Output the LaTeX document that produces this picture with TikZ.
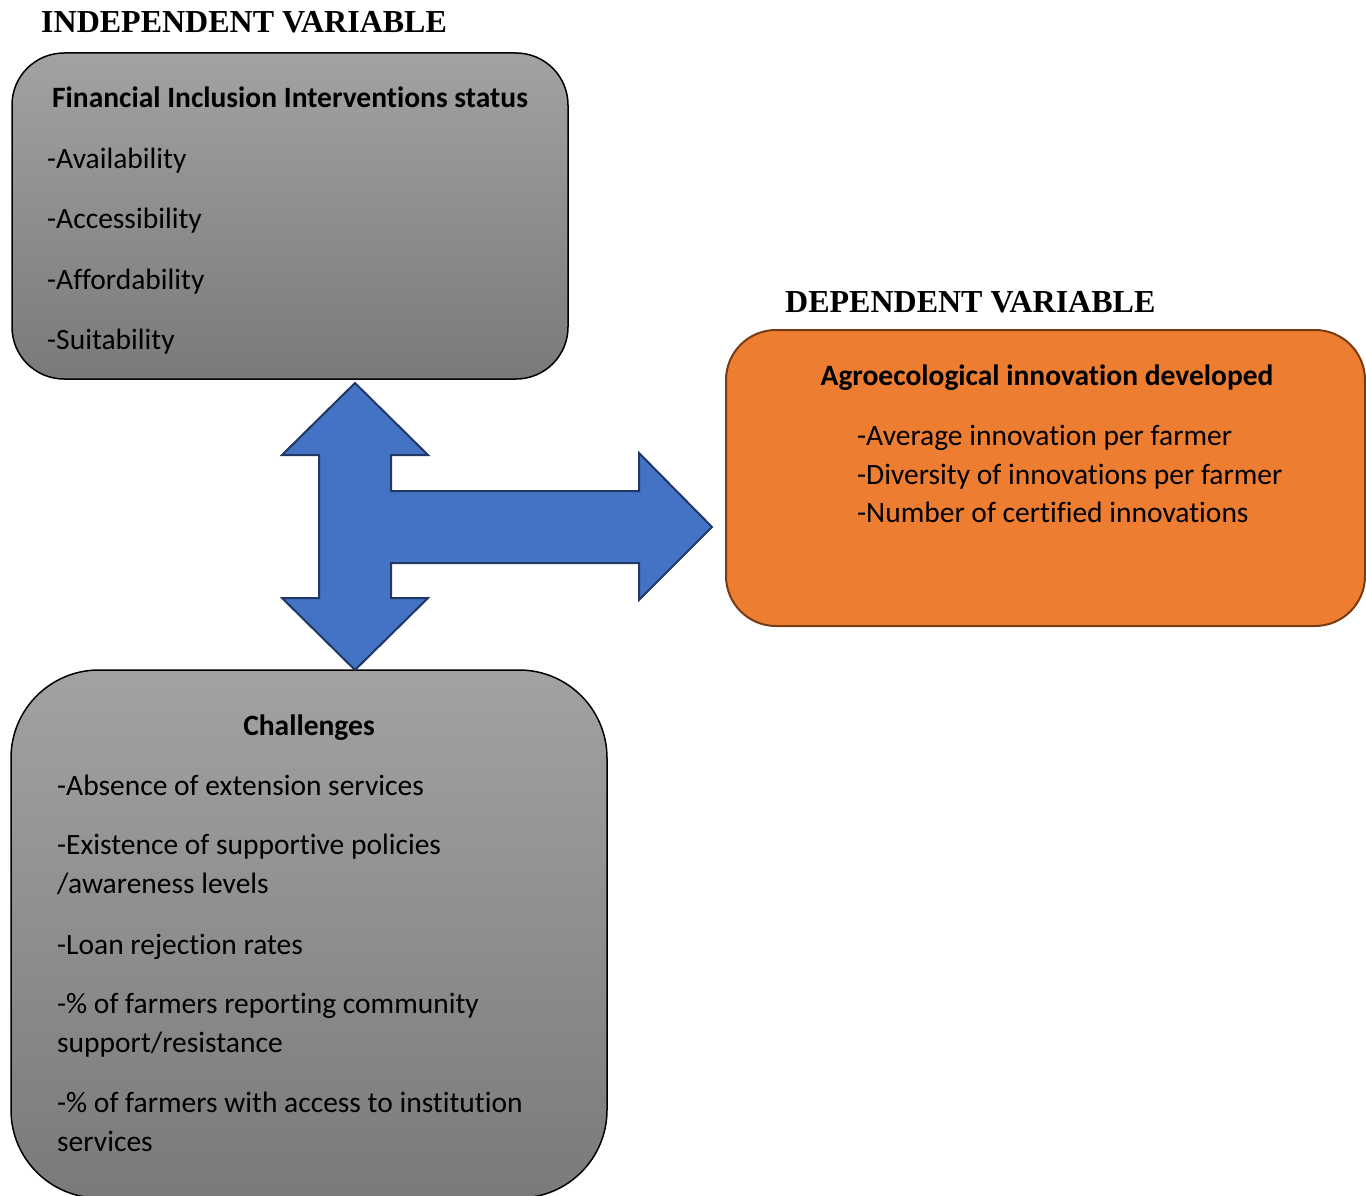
\documentclass[tikz,border=0pt]{standalone}
\usepackage{fontspec}
\setmainfont{Carlito}[Ligatures={NoCommon}]
\newfontfamily\headfont{Liberation Serif}
\definecolor{grayTop}{RGB}{162,162,162}
\definecolor{grayBot}{RGB}{122,122,122}
\definecolor{orangeFill}{RGB}{237,125,49}
\definecolor{orangeLine}{RGB}{120,60,20}
\definecolor{blueFill}{RGB}{68,114,196}
\definecolor{blueLine}{RGB}{31,56,100}
\begin{document}
\begin{tikzpicture}[x=1pt,y=1pt,
  graybox/.style={draw=black, line width=1.5pt, top color=grayTop, bottom color=grayBot, inner sep=0pt},
  orangebox/.style={draw=orangeLine, line width=2pt, fill=orangeFill, inner sep=0pt},
  headtxt/.style={anchor=base west, inner sep=0pt, font=\headfont\bfseries\fontsize{32}{38}\selectfont},
  titletxt/.style={anchor=base, inner sep=0pt, font=\bfseries\fontsize{29.5}{35}\selectfont},
  itemtxt/.style={anchor=base west, inner sep=0pt, font=\fontsize{29.5}{35}\selectfont},
  bigarrow/.style={fill=blueFill, draw=blueLine, line width=2pt, line join=miter}]
\useasboundingbox (0,0) rectangle (1366,-1196);
\clip (0,0) rectangle (1366,-1196);

% section headings
\node[headtxt] (indep) at (41,-33) {INDEPENDENT VARIABLE};
\node[headtxt] (dep) at (785,-312) {DEPENDENT VARIABLE};

% boxes
\node[graybox, rounded corners=52pt, minimum width=556pt, minimum height=326pt] (fin) at (290,-216) {};
\node[orangebox, rounded corners=50pt, minimum width=639pt, minimum height=296pt] (agro) at (1045.5,-478) {};
\node[graybox, rounded corners=88pt, minimum width=596pt, minimum height=528pt] (chal) at (309,-934) {};

% three-headed block arrow between the boxes
\coordinate (tTop) at (355,-383);
\coordinate (tBot) at (355,-670);
\coordinate (tRight) at (712,-527);
\draw[bigarrow]
  (tTop) -- (428,-455) -- (391,-455) -- (391,-491) -- (639,-491) -- (639,-453)
  -- (tRight) -- (639,-600) -- (639,-563) -- (391,-563) -- (391,-598) -- (428,-598)
  -- (tBot) -- (282,-598) -- (319,-598) -- (319,-455) -- (282,-455) -- cycle;

% financial inclusion box text
\node[titletxt] (finT) at (290,-108) {Financial Inclusion Interventions status};
\node[itemtxt] (f1) at (47,-169) {-Availability};
\node[itemtxt] (f2) at (47,-229) {-Accessibility};
\node[itemtxt] (f3) at (47,-289) {-Affordability};
\node[itemtxt] (f4) at (47,-349) {-Suitability};

% agroecological box text
\node[titletxt] (agroT) at (1047,-385) {Agroecological innovation developed};
\node[itemtxt] (a1) at (857,-445) {-Average innovation per farmer};
\node[itemtxt] (a2) at (857,-484) {-Diversity of innovations per farmer};
\node[itemtxt] (a3) at (857,-522) {-Number of certified innovations};

% challenges box text
\node[titletxt] (chalT) at (309,-735) {Challenges};
\node[itemtxt] (c1) at (57,-795) {-Absence of extension services};
\node[itemtxt] (c2) at (57,-854) {-Existence of supportive policies};
\node[itemtxt] (c3) at (57,-893) {/awareness levels};
\node[itemtxt] (c4) at (57,-954) {-Loan rejection rates};
\node[itemtxt] (c5) at (57,-1013) {-\% of farmers reporting community};
\node[itemtxt] (c6) at (57,-1052) {support/resistance};
\node[itemtxt] (c7) at (57,-1112) {-\% of farmers with access to institution};
\node[itemtxt] (c8) at (57,-1151) {services};
\end{tikzpicture}
\end{document}
